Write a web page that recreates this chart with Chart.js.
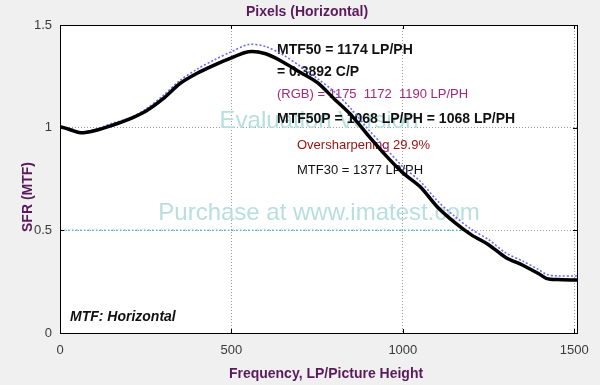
<!DOCTYPE html>
<html>
<head>
<meta charset="utf-8">
<style>
  body { margin: 0; background: #f0f0f0; }
  canvas { display: block; }
</style>
</head>
<body>
<canvas id="mtfChart" width="600" height="385"></canvas>

<script src="https://cdn.jsdelivr.net/npm/chart.js"></script>
<script>
    // frequency in LP/PH, Nyquist = 1508
    const freq = [0, 30, 60, 100, 150, 200, 250, 300, 350, 400, 450, 500, 550, 600, 650, 700, 750, 800,
        850, 900, 950, 1000, 1050, 1100, 1150, 1200, 1250, 1300, 1350, 1400, 1420, 1450, 1508];

    const lumMTF = [1.005, 0.99, 0.975, 0.985, 1.01, 1.04, 1.08, 1.14, 1.215, 1.265, 1.305, 1.34, 1.37, 1.36,
        1.32, 1.27, 1.22, 1.14, 1.06, 0.96, 0.865, 0.78, 0.713, 0.615, 0.54, 0.478, 0.43, 0.368, 0.33, 0.285,
        0.265, 0.26, 0.258];
    const redMTF = [1.005, 0.992, 0.978, 0.988, 1.012, 1.042, 1.082, 1.142, 1.217, 1.268, 1.308, 1.343, 1.372, 1.362,
        1.322, 1.272, 1.222, 1.143, 1.062, 0.962, 0.867, 0.782, 0.715, 0.617, 0.542, 0.48, 0.432, 0.37, 0.332, 0.287,
        0.267, 0.262, 0.26];
    const greenMTF = [1.004, 0.989, 0.973, 0.983, 1.008, 1.038, 1.078, 1.138, 1.213, 1.263, 1.303, 1.338, 1.368, 1.358,
        1.318, 1.268, 1.218, 1.138, 1.058, 0.958, 0.862, 0.778, 0.71, 0.612, 0.537, 0.475, 0.428, 0.366, 0.328, 0.283,
        0.263, 0.258, 0.256];
    const blueMTF = [1.005, 0.995, 0.98, 0.99, 1.02, 1.045, 1.09, 1.155, 1.23, 1.285, 1.33, 1.37, 1.405, 1.395,
        1.355, 1.3, 1.24, 1.175, 1.09, 0.99, 0.9, 0.81, 0.74, 0.645, 0.57, 0.505, 0.455, 0.39, 0.35, 0.305,
        0.285, 0.278, 0.278];

    const xTicks = [0, 500, 1000, 1500];
    const yTicks = [0, 0.5, 1, 1.5];
    const xMax = 1508;
    const mtf50 = 1174;

    const titleTop = 'Pixels (Horizontal)';
    const titleX = 'Frequency, LP/Picture Height';
    const titleY = 'SFR (MTF)';
    const chartLabel = 'MTF: Horizontal';
    const purple = '#5a1a5c';

    function toPoints(xs, ys) {
        return xs.map((x, i) => ({ x: x, y: ys[i] }));
    }

    const textPlugin = {
        id: 'mtfTexts',
        beforeDraw(chart) {
            const { ctx, chartArea: a } = chart;
            ctx.save();
            ctx.fillStyle = '#ffffff';
            ctx.fillRect(a.left, a.top, a.right - a.left, a.bottom - a.top);
            ctx.restore();
        },
        beforeDatasetsDraw(chart) {
            const ctx = chart.ctx;
            ctx.save();
            // watermark
            ctx.fillStyle = '#b8dfdf';
            ctx.font = '24px "Liberation Sans", Arial, sans-serif';
            ctx.textAlign = 'center';
            ctx.textBaseline = 'middle';
            ctx.fillText('Evaluation Version', 319, 121);
            ctx.fillText('Purchase at www.imatest.com', 319, 213);

            // annotations
            ctx.textAlign = 'left';
            ctx.fillStyle = '#111111';
            ctx.font = 'bold 14px "Liberation Sans", Arial, sans-serif';
            ctx.fillText('MTF50 = 1174 LP/PH', 277, 50);
            ctx.fillText('= 0.3892 C/P', 277, 72);
            ctx.fillStyle = '#a3287a';
            ctx.font = '13px "Liberation Sans", Arial, sans-serif';
            ctx.fillText('(RGB) = 1175  1172  1190 LP/PH', 277, 94);
            ctx.fillStyle = '#111111';
            ctx.font = 'bold 14px "Liberation Sans", Arial, sans-serif';
            ctx.fillText('MTF50P = 1068 LP/PH = 1068 LP/PH', 277, 119);
            ctx.fillStyle = '#9a1010';
            ctx.font = '13px "Liberation Sans", Arial, sans-serif';
            ctx.fillText('Oversharpening 29.9%', 297, 145);
            ctx.fillStyle = '#111111';
            ctx.fillText('MTF30 = 1377 LP/PH', 297, 170);
            ctx.font = 'italic bold 14px "Liberation Sans", Arial, sans-serif';
            ctx.fillText(chartLabel, 70, 317);
            ctx.restore();
        },
        afterDraw(chart) {
            const { ctx, chartArea: a } = chart;
            const xs = chart.scales.x, ys = chart.scales.y;
            ctx.save();
            ctx.strokeStyle = '#000000';
            ctx.lineWidth = 1;
            ctx.strokeRect(a.left + 0.5, a.top + 0.5, a.right - a.left, a.bottom - a.top);
            ctx.beginPath();
            xTicks.forEach(v => {
                const px = Math.round(xs.getPixelForValue(v)) + 0.5;
                ctx.moveTo(px, a.bottom); ctx.lineTo(px, a.bottom - 4);
                ctx.moveTo(px, a.top); ctx.lineTo(px, a.top + 4);
            });
            yTicks.forEach(v => {
                const py = Math.round(ys.getPixelForValue(v)) + 0.5;
                ctx.moveTo(a.left, py); ctx.lineTo(a.left + 4, py);
                ctx.moveTo(a.right, py); ctx.lineTo(a.right - 4, py);
            });
            ctx.stroke();

            ctx.fillStyle = purple;
            ctx.font = 'bold 14px "Liberation Sans", Arial, sans-serif';
            ctx.textAlign = 'center';
            ctx.textBaseline = 'middle';
            ctx.fillText(titleTop, 307, 12);
            ctx.fillText(titleX, 326, 374);
            ctx.translate(28, 197);
            ctx.rotate(-Math.PI / 2);
            ctx.fillText(titleY, 0, 0);
            ctx.restore();
        }
    };

    const ctx = document.getElementById('mtfChart');
    new Chart(ctx.getContext('2d'), {
        type: 'line',
        data: {
            datasets: [
                {
                    label: 'Luminance',
                    data: toPoints(freq, lumMTF),
                    borderColor: '#000000',
                    borderWidth: 3.5,
                    tension: 0.3,
                    pointRadius: 0
                },
                {
                    label: 'Red',
                    data: toPoints(freq, redMTF),
                    borderColor: '#e02020',
                    borderWidth: 1.5,
                    tension: 0.3,
                    pointRadius: 0
                },
                {
                    label: 'Green',
                    data: toPoints(freq, greenMTF),
                    borderColor: '#20b020',
                    borderWidth: 1.5,
                    tension: 0.3,
                    pointRadius: 0
                },
                {
                    label: 'Blue',
                    data: toPoints(freq, blueMTF),
                    borderColor: '#6a6aff',
                    borderWidth: 1.6,
                    borderDash: [2, 2],
                    tension: 0.3,
                    pointRadius: 0
                },
                {
                    label: 'MTF50',
                    data: [{ x: 0, y: 0.5 }, { x: mtf50, y: 0.5 }],
                    borderColor: '#3cc8d0',
                    borderWidth: 1.5,
                    borderDash: [1.5, 2.5],
                    pointRadius: 0
                }
            ]
        },
        options: {
            responsive: false,
            animation: false,
            layout: { padding: { top: 25, right: 23, left: 0, bottom: 0 } },
            scales: {
                x: {
                    type: 'linear',
                    min: 0,
                    max: xMax,
                    afterBuildTicks: scale => { scale.ticks = xTicks.map(v => ({ value: v })); },
                    afterFit: scale => { scale.height = 52; },
                    ticks: {
                        color: '#3a3a3a',
                        padding: 10,
                        maxRotation: 0,
                        callback: v => String(v),
                        font: { family: '"Liberation Sans", Arial, sans-serif', size: 13 }
                    },
                    grid: {
                        drawTicks: false,
                        color: c => (c.tick && c.tick.value === 0) ? 'rgba(0,0,0,0)' : '#9a9a9a',
                        lineWidth: 1
                    },
                    border: { display: false, dash: [1, 2] }
                },
                y: {
                    min: 0,
                    max: 1.5,
                    afterBuildTicks: scale => { scale.ticks = yTicks.map(v => ({ value: v })); },
                    afterFit: scale => { scale.width = 60; },
                    ticks: {
                        color: '#3a3a3a',
                        padding: 8,
                        callback: v => String(v),
                        font: { family: '"Liberation Sans", Arial, sans-serif', size: 13 }
                    },
                    grid: {
                        drawTicks: false,
                        color: c => (c.tick && (c.tick.value === 0 || c.tick.value === 1.5)) ? 'rgba(0,0,0,0)' : '#9a9a9a',
                        lineWidth: 1
                    },
                    border: { display: false, dash: [1, 2] }
                }
            },
            plugins: {
                legend: { display: false },
                title: { display: false },
                tooltip: { enabled: false }
            }
        },
        plugins: [textPlugin]
    });
</script>
</body>
</html>
